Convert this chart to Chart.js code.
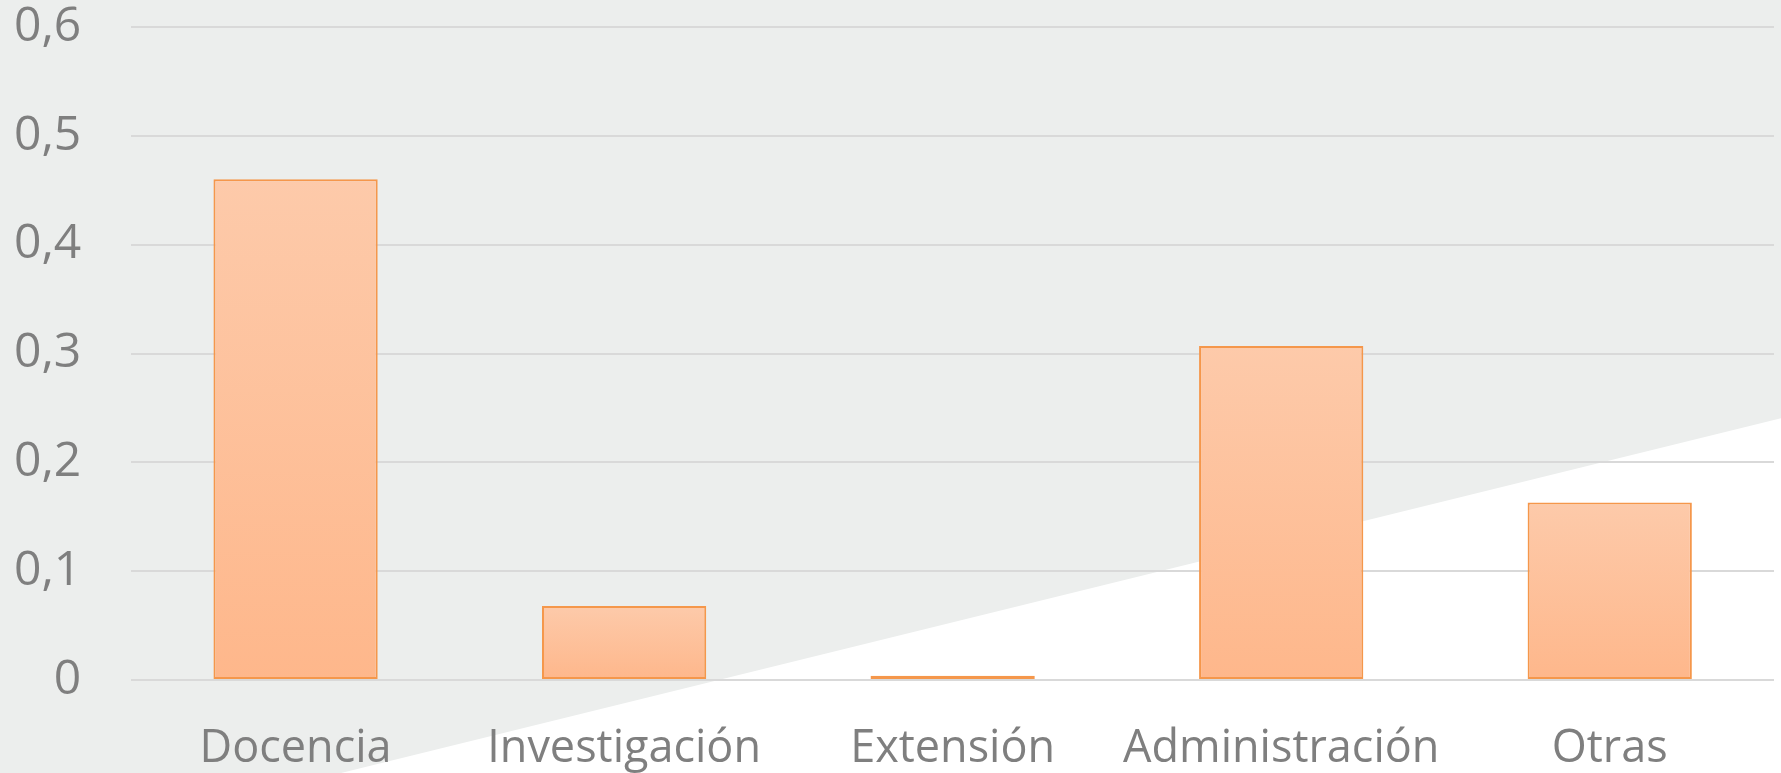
<!DOCTYPE html>
<html>
<head>
<meta charset="utf-8">
<script src="https://cdn.jsdelivr.net/npm/chart.js@4.4.1/dist/chart.umd.min.js"></script>
<style>
  html, body { margin: 0; padding: 0; overflow: hidden; background: #fff; }
  canvas { display: block; }
</style>
</head>
<body>
<canvas id="chart" width="1781" height="773"></canvas>
<script>
// Data
const categories = ["Docencia", "Investigación", "Extensión", "Administración", "Otras"]
const values = [0.46, 0.068, 0.004, 0.307, 0.163]
const yTicks = [0, 0.1, 0.2, 0.3, 0.4, 0.5, 0.6]

// Grey backdrop with the white wedge at the bottom right
const backdrop = {
  id: "backdrop",
  beforeDraw(chart) {
    const { ctx, width, height } = chart
    ctx.save()
    ctx.fillStyle = "#eceeed"
    ctx.fillRect(0, 0, width, height)
    ctx.fillStyle = "#ffffff"
    ctx.beginPath()
    ctx.moveTo(width * 0.1915, height)
    ctx.lineTo(width, height * 0.541)
    ctx.lineTo(width, height)
    ctx.closePath()
    ctx.fill()
    ctx.restore()
  },
}

// Gradient per bar, light at the top
function barFill(context) {
  const chart = context.chart
  if (!chart.chartArea) return "#fdc1a0"
  const y = chart.scales.y
  const top = y.getPixelForValue(context.raw)
  const base = y.getPixelForValue(0)
  if (!isFinite(top) || base - top < 1) return "#fdbb92"
  const g = chart.ctx.createLinearGradient(0, top, 0, base)
  g.addColorStop(0, "#fdcaaa")
  g.addColorStop(1, "#feb78b")
  return g
}

new Chart(document.getElementById("chart"), {
  type: "bar",
  data: {
    labels: categories,
    datasets: [
      {
        data: values,
        backgroundColor: barFill,
        borderColor: "#f5974b",
        borderWidth: 2,
        borderSkipped: false,
        categoryPercentage: 1,
        barPercentage: 0.5,
      },
    ],
  },
  options: {
    responsive: false,
    animation: false,
    layout: { padding: { left: -36, right: 7, top: 0, bottom: -45 } },
    plugins: {
      legend: { display: false },
      tooltip: { enabled: false },
    },
    scales: {
      x: {
        grid: { display: false, drawTicks: false },
        border: { display: false },
        ticks: {
          color: "#7f7f7f",
          padding: 42,
          font: { family: "Open Sans", size: 45 },
          maxRotation: 0,
        },
      },
      y: {
        min: 0,
        max: 0.6,
        afterBuildTicks: (axis) => {
          axis.ticks = yTicks.map((v) => ({ value: v }))
        },
        // top label may sit close to the edge, like the original
        afterFit: (axis) => {
          axis.paddingTop = 27
        },
        grid: { color: "#d9d9d9", lineWidth: 2, drawTicks: false },
        border: { display: false },
        ticks: {
          color: "#7f7f7f",
          padding: 50,
          font: { family: "Open Sans", size: 48 },
          callback: (v) => String(Math.round(v * 10) / 10).replace(".", ","),
        },
      },
    },
  },
  plugins: [backdrop],
})
</script>
</body>
</html>
